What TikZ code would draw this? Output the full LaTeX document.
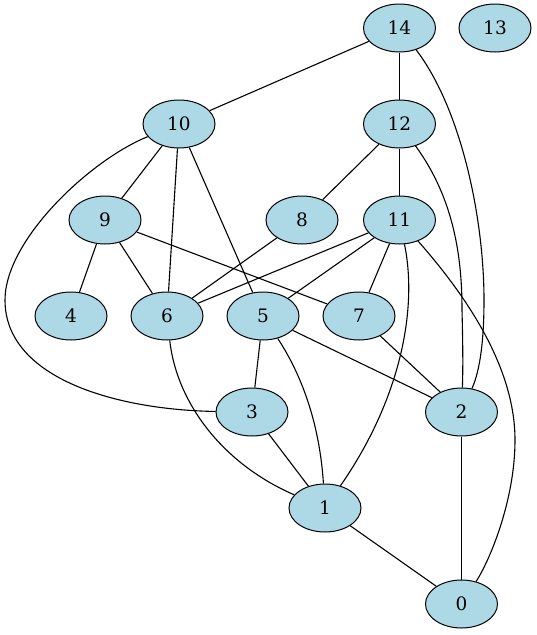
\documentclass[tikz,border=0pt]{standalone}
\usepackage{fontspec}
\setmainfont{DejaVu Serif}
\usetikzlibrary{shapes.geometric}
\begin{document}
\begin{tikzpicture}[x=1pt,y=-1pt,
  vtx/.style={ellipse,draw=black,fill=lightblue,line width=1pt,minimum width=72pt,minimum height=48pt,inner sep=0pt,font=\fontsize{18.5}{20}\selectfont},
  edge/.style={draw=black,line width=1.1pt}]
\definecolor{lightblue}{HTML}{ADD8E6}
\useasboundingbox (0,0) rectangle (537,635);
\node[vtx] (n14) at (399.5,28) {14};
\node[vtx] (n13) at (495,28) {13};
\node[vtx] (n10) at (179,124) {10};
\node[vtx] (n12) at (399.5,124) {12};
\node[vtx] (n9) at (105,220) {9};
\node[vtx] (n8) at (302,220) {8};
\node[vtx] (n11) at (399.5,220) {11};
\node[vtx] (n4) at (71,316) {4};
\node[vtx] (n6) at (167,316) {6};
\node[vtx] (n5) at (263,316) {5};
\node[vtx] (n7) at (359,316) {7};
\node[vtx] (n3) at (252,412) {3};
\node[vtx] (n2) at (461.5,412) {2};
\node[vtx] (n1) at (325,508) {1};
\node[vtx] (n0) at (461.5,604) {0};
\path[edge] (n14) -- (n10);
\path[edge] (n14) -- (n12);
\path[edge] (n14) .. controls (462,110) and (484,220) .. (484,300) .. controls (484,350) and (478,375) .. (n2);
\path[edge] (n10) -- (n9);
\path[edge] (n10) -- (n6);
\path[edge] (n10) -- (n5);
\path[edge] (n10) .. controls (90,160) and (5,240) .. (5,300) .. controls (5,380) and (120,410) .. (n3);
\path[edge] (n12) -- (n8);
\path[edge] (n12) -- (n11);
\path[edge] (n12) .. controls (455,200) and (462,260) .. (462,310) .. controls (463,350) and (463,370) .. (n2);
\path[edge] (n9) -- (n4);
\path[edge] (n9) -- (n6);
\path[edge] (n9) -- (n7);
\path[edge] (n8) -- (n6);
\path[edge] (n11) -- (n6);
\path[edge] (n11) -- (n5);
\path[edge] (n11) -- (n7);
\path[edge] (n11) .. controls (418,310) and (400,400) .. (n1);
\path[edge] (n11) .. controls (470,300) and (515,370) .. (515,440) .. controls (515,500) and (490,560) .. (n0);
\path[edge] (n5) -- (n3);
\path[edge] (n5) .. controls (305,380) and (320,430) .. (n1);
\path[edge] (n5) -- (n2);
\path[edge] (n7) -- (n2);
\path[edge] (n6) .. controls (177,405) and (225,465) .. (n1);
\path[edge] (n3) -- (n1);
\path[edge] (n2) -- (n0);
\path[edge] (n1) -- (n0);
\end{tikzpicture}
\end{document}
